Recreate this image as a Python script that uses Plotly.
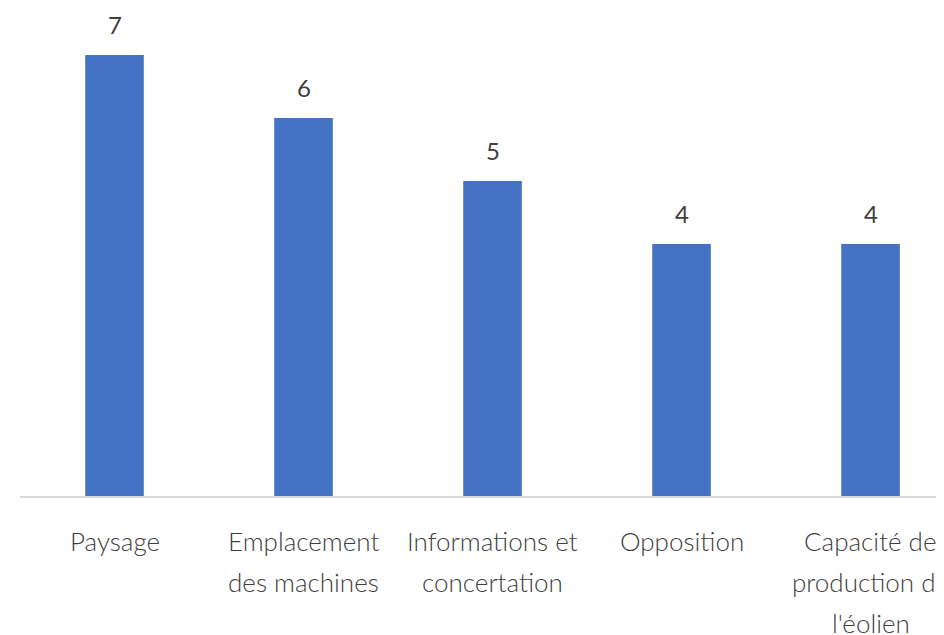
import plotly.graph_objects as go

categories = ["Paysage", "Emplacement des machines", "Informations et concertation",
              "Opposition", "Capacité de production de l'éolien"]
label_lines = [["Paysage"], ["Emplacement", "des machines"], ["Informations et", "concertation"],
               ["Opposition"], ["Capacité de", "production de", "l'éolien"]]
values = [7, 6, 5, 4, 4]

FONT = "Lato"
TXT = "#404040"

fig = go.Figure(go.Bar(
    x=categories, y=values, marker_color="#4472C4", width=0.31, hoverinfo="skip"
))

ann = []
for cat, v in zip(categories, values):
    ann.append(dict(x=cat, y=v, xref="x", yref="y", text=str(v), showarrow=False,
                    yshift=31, yanchor="middle",
                    font=dict(family=FONT, size=24, color=TXT, weight=400)))
for cat, lines in zip(categories, label_lines):
    for i, ln in enumerate(lines):
        ann.append(dict(x=cat, y=0, xref="x", yref="y", text=ln, showarrow=False,
                        yshift=-(45 + 41 * i), yanchor="middle",
                        font=dict(family=FONT, size=26, color=TXT, weight=300)))

fig.update_layout(
    template="none",
    width=944, height=635,
    margin=dict(l=12, r=0, t=0, b=147),
    paper_bgcolor="white", plot_bgcolor="white",
    showlegend=False,
    annotations=ann,
    xaxis=dict(range=[-0.5, 4.431], showticklabels=False, showgrid=False, zeroline=False,
               showline=True, linecolor="#d9d9d9", linewidth=1.5, ticks="", automargin=False),
    yaxis=dict(range=[0, 7.746], visible=False, showgrid=False, zeroline=False, automargin=False),
)

fig.write_html("out.html")
